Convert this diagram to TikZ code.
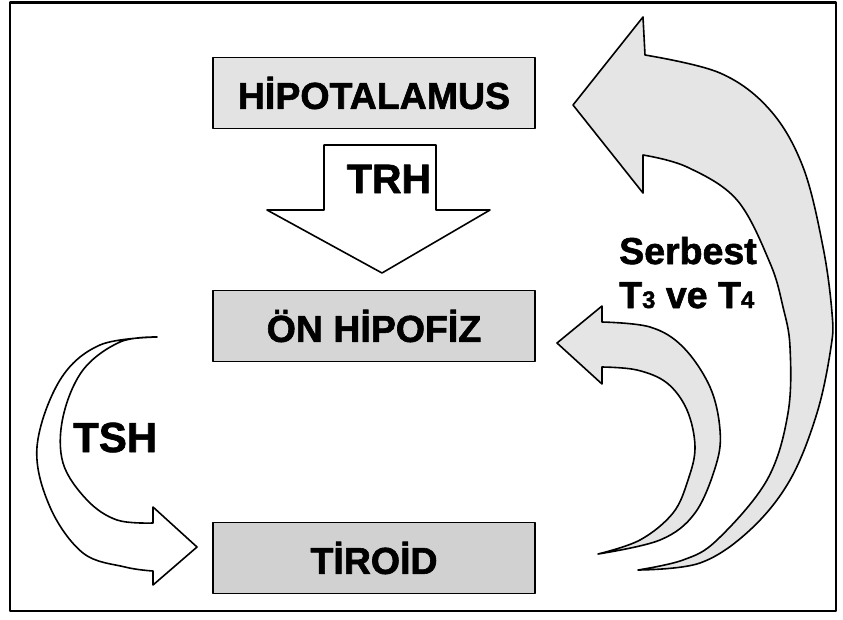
\documentclass[tikz,border=0pt]{standalone}
\usepackage{fontspec}
\setmainfont{Liberation Sans}[BoldFeatures={FakeBold=1.6}]
\begin{document}
\begin{tikzpicture}[x=1pt,y=-1pt,line join=round,
  box/.style={draw=black,line width=1.6pt,minimum width=322pt,minimum height=71pt,inner sep=0pt,
    font=\bfseries\fontsize{37.5}{40}\selectfont},
  arr/.style={draw=black,line width=1.6pt},
  lbl/.style={inner sep=0pt,anchor=base west,font=\bfseries\fontsize{37.5}{40}\selectfont}]
\useasboundingbox (0,0) rectangle (843,619);
\draw[line width=2.5pt] (10,2.5) rectangle (836,611);
% boxes
\node[box,fill=gray!22] (hipo) at (374,93) {HİPOTALAMUS};
\node[box,fill=gray!32] (onh) at (374,326) {ÖN HİPOFİZ};
\node[box,fill=gray!36] (tir) at (374,558) {TİROİD};
% TRH arrow
\draw[arr,fill=white] (324,145) -- (436,145) -- (436,210) -- (490,210) -- (382,273) -- (267,210) -- (324,210) -- cycle;
\node[inner sep=0pt,anchor=base,font=\bfseries\fontsize{41}{44}\selectfont] (trh) at (389,193) {TRH};
% TSH arrow
\draw[arr,fill=white] plot[smooth,tension=0.6] coordinates {(157,337)(100,345)(60,380)(37,447)(50,507)(83,553)(125,567)(153,571)}
  -- (153,585) -- (197,547) -- (153,507) -- (153,523)
  -- plot[smooth,tension=0.6] coordinates {(153,523)(117,520)(87,500)(63,463)(63,417)(83,370)(120,342)(157,337)} -- cycle;
\node[inner sep=0pt,anchor=base west,font=\bfseries\fontsize{42}{44}\selectfont] (tsh) at (73,452) {TSH};
% small feedback arrow
\draw[arr,fill=gray!20] plot[smooth,tension=0.6] coordinates {(598,554)(660,540)(695,513)(716,465)(720,430)(710,387)(683,347)(650,327)(602,322)}
  -- (602,306) -- (557,343) -- (602,384) -- (602,367)
  -- plot[smooth,tension=0.6] coordinates {(602,367)(637,370)(667,383)(687,410)(695,447)(688,480)(673,513)(640,540)(598,554)} -- cycle;
% big feedback arrow
\draw[arr,fill=gray!20] plot[smooth,tension=0.6] coordinates {(638,570)(700,563)(750,530)(790,480)(817,413)(831,347)(832,313)(823,247)(803,167)(770,110)(720,73)(645,55)}
  -- (643,17) -- (573,105) -- (643,193) -- (643,155)
  -- plot[smooth,tension=0.6] coordinates {(643,155)(687,167)(737,200)(770,263)(783,307)(790,347)(788,413)(767,480)(717,540)(683,560)(638,570)} -- cycle;
% labels
\node[lbl] (serb) at (619,264) {Serbest};
\node[lbl] (t3t4) at (619,308) {T{\fontsize{24}{24}\selectfont 3} ve T{\fontsize{24}{24}\selectfont 4}};
\end{tikzpicture}
\end{document}
